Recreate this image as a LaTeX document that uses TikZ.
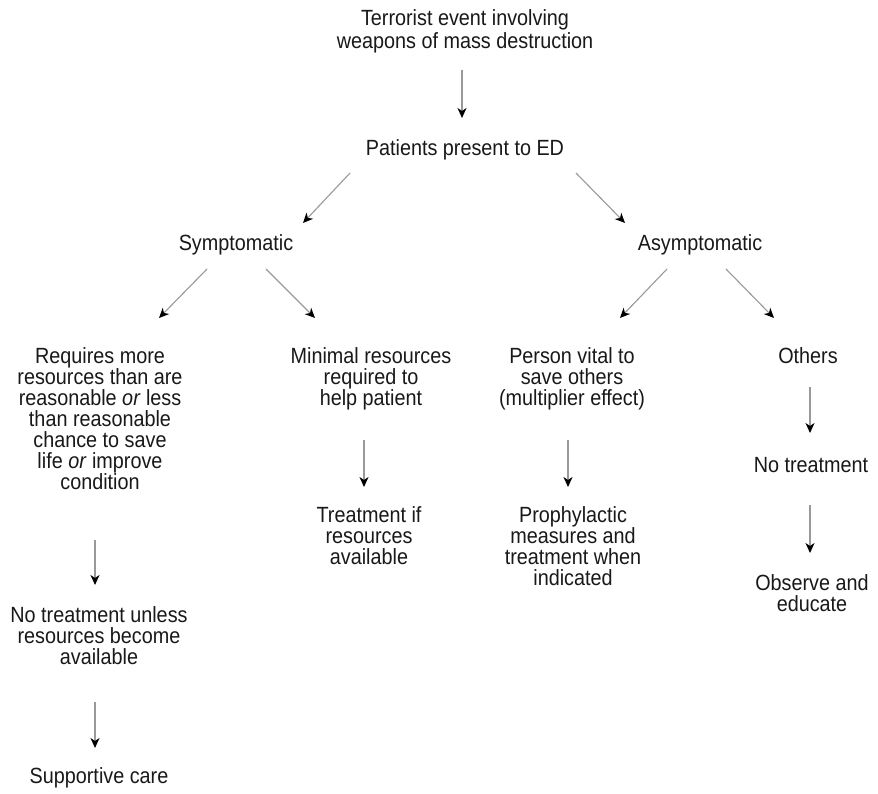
\documentclass[tikz,border=0pt]{standalone}
\usepackage{fontspec}
\setmainfont[FakeStretch=0.9]{Liberation Sans}
\usetikzlibrary{arrows.meta}
\tikzset{
  lbl/.style={font=\fontsize{22}{21}\selectfont, inner sep=0pt, align=center, anchor=north, text=black!90},
  arr/.style={draw=black!40, line width=1.1pt, -{Stealth[length=10pt,width=9pt,inset=3pt,color=black]}}
}
\begin{document}
\begin{tikzpicture}[x=1pt,y=-1pt]
\useasboundingbox[fill=white] (0,0) rectangle (878,794);
% nodes (x = centre, y = top of text)
\node[lbl, font=\fontsize{22}{23}\selectfont] (title) at (465,9) {Terrorist event involving\\weapons of mass destruction};
\node[lbl] (pat)  at (465,139) {Patients present to ED};
\node[lbl] (sym)  at (236,234) {Symptomatic};
\node[lbl] (asym) at (700,234) {Asymptomatic};
\node[lbl] (req)  at (100,347) {Requires more\\resources than are\\reasonable \textit{or} less\\than reasonable\\chance to save\\life \textit{or} improve\\condition};
\node[lbl] (min)  at (371,347) {Minimal resources\\required to\\help patient};
\node[lbl] (per)  at (572,347) {Person vital to\\save others\\(multiplier effect)};
\node[lbl] (oth)  at (808,347) {Others};
\node[lbl] (ntu)  at (99,606)  {No treatment unless\\resources become\\available};
\node[lbl] (sup)  at (99,767)  {Supportive care};
\node[lbl] (trt)  at (369,506) {Treatment if\\resources\\available};
\node[lbl] (pro)  at (573,506) {Prophylactic\\measures and\\treatment when\\indicated};
\node[lbl] (nto)  at (811,457) {No treatment};
\node[lbl] (obs)  at (812,574) {Observe and\\educate};
% connectors
\draw[arr] ([shift={(-3,61)}]title.north) -- ([shift={(-3,-21)}]pat.north);
\draw[arr] ([shift={(-115,34)}]pat.north) -- ([shift={(67,-11)}]sym.north);
\draw[arr] ([shift={(111,34)}]pat.north) -- ([shift={(-75,-11)}]asym.north);
\draw[arr] ([shift={(-29,35)}]sym.north) -- ([shift={(59,-29)}]req.north);
\draw[arr] ([shift={(30,35)}]sym.north) -- ([shift={(-56,-29)}]min.north);
\draw[arr] ([shift={(-33,35)}]asym.north) -- ([shift={(48,-29)}]per.north);
\draw[arr] ([shift={(26,35)}]asym.north) -- ([shift={(-34,-29)}]oth.north);
\draw[arr] ([shift={(-5,193)}]req.north) -- ([shift={(-4,-21)}]ntu.north);
\draw[arr] ([shift={(-4,96)}]ntu.north) -- ([shift={(-4,-19)}]sup.north);
\draw[arr] ([shift={(-7,93)}]min.north) -- ([shift={(-5,-19)}]trt.north);
\draw[arr] ([shift={(-4,93)}]per.north) -- ([shift={(-5,-19)}]pro.north);
\draw[arr] ([shift={(2,40)}]oth.north) -- ([shift={(-1,-24)}]nto.north);
\draw[arr] ([shift={(-1,48)}]nto.north) -- ([shift={(-2,-21)}]obs.north);
\end{tikzpicture}
\end{document}
